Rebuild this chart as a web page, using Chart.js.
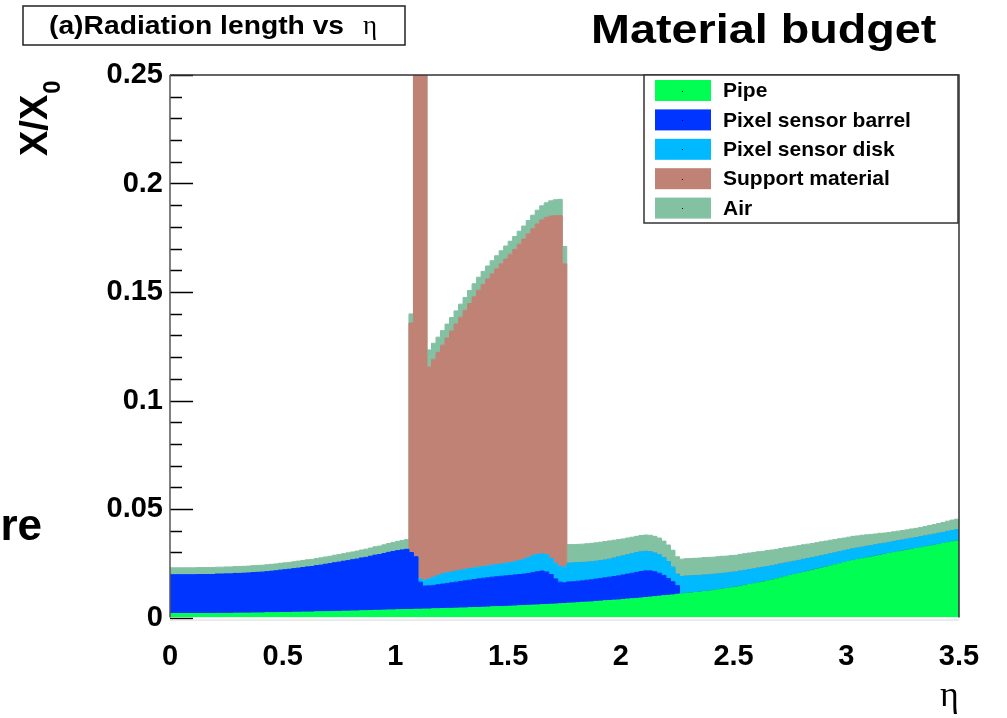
<!DOCTYPE html>
<html>
<head>
<meta charset="utf-8">
<title>Material budget</title>
<script src="https://cdn.jsdelivr.net/npm/chart.js@4.4.1/dist/chart.umd.min.js"></script>
<style>
  html, body { margin: 0; padding: 0; background: #fff; }
  #wrap { width: 1007px; height: 718px; }
</style>
</head>
<body>
<div id="wrap"><canvas id="budgetChart" width="1007" height="718"></canvas></div>
<script>
// histogram axis: 175 bins of 0.02 in eta
const etaMin = 0;
const etaMax = 3.5;
const nBins = 175;

// X/X0 per bin, one array per material (stacked bottom to top)
const pipe = [
  0.0018, 0.0018, 0.0018, 0.0018, 0.0018, 0.0018, 0.0018, 0.0018, 0.0018, 0.0018,
  0.0019, 0.0019, 0.0019, 0.0019, 0.0020, 0.0020, 0.0020, 0.0020, 0.0021, 0.0021,
  0.0021, 0.0022, 0.0022, 0.0022, 0.0023, 0.0023, 0.0023, 0.0024, 0.0024, 0.0025,
  0.0025, 0.0025, 0.0026, 0.0026, 0.0027, 0.0027, 0.0028, 0.0028, 0.0029, 0.0029,
  0.0030, 0.0030, 0.0031, 0.0031, 0.0032, 0.0033, 0.0033, 0.0034, 0.0035, 0.0035,
  0.0036, 0.0036, 0.0037, 0.0037, 0.0038, 0.0038, 0.0039,
  0.0039, 0.0040, 0.0040, 0.0041, 0.0042, 0.0042, 0.0043, 0.0044, 0.0044, 0.0045,
  0.0046, 0.0046, 0.0047, 0.0048, 0.0049, 0.0050, 0.0050, 0.0051, 0.0052, 0.0053,
  0.0054, 0.0055, 0.0056, 0.0057, 0.0058, 0.0059, 0.0060, 0.0061, 0.0062, 0.0063,
  0.0064,
  0.0066, 0.0067, 0.0068, 0.0070, 0.0071, 0.0072, 0.0074, 0.0075, 0.0077, 0.0078,
  0.0080, 0.0081, 0.0083, 0.0085, 0.0086, 0.0088, 0.0090, 0.0092, 0.0094, 0.0096,
  0.0098, 0.0100, 0.0102, 0.0104, 0.0107,
  0.0109, 0.0111, 0.0113, 0.0115, 0.0117, 0.0120, 0.0122, 0.0125, 0.0128, 0.0131,
  0.0134, 0.0137, 0.0140, 0.0144, 0.0148, 0.0152, 0.0156, 0.0160, 0.0164, 0.0169,
  0.0173, 0.0178, 0.0183, 0.0188, 0.0193, 0.0198, 0.0203, 0.0208, 0.0213, 0.0218,
  0.0223, 0.0228, 0.0233, 0.0238, 0.0243, 0.0248, 0.0253, 0.0258, 0.0263, 0.0267,
  0.0271, 0.0275, 0.0279, 0.0283, 0.0287, 0.0291, 0.0295, 0.0299, 0.0303, 0.0307,
  0.0311, 0.0315, 0.0318, 0.0322, 0.0326, 0.0330, 0.0333, 0.0337, 0.0341, 0.0345,
  0.0349, 0.0353
];
const pixelBarrel = [
  0.0179, 0.0179, 0.0179, 0.0179, 0.0179, 0.0179, 0.0180, 0.0180, 0.0180, 0.0180,
  0.0181, 0.0181, 0.0182, 0.0182, 0.0183, 0.0183, 0.0184, 0.0185, 0.0186, 0.0187,
  0.0188, 0.0189, 0.0191, 0.0193, 0.0195, 0.0197, 0.0199, 0.0201, 0.0203, 0.0205,
  0.0208, 0.0210, 0.0213, 0.0215, 0.0218, 0.0221, 0.0224, 0.0227, 0.0230, 0.0233,
  0.0236, 0.0239, 0.0243, 0.0246, 0.0250, 0.0254, 0.0257, 0.0261, 0.0265, 0.0269,
  0.0272, 0.0275, 0.0277, 0.0262, 0.0242, 0.0125, 0.0106,
  0.0107, 0.0108, 0.0111, 0.0113, 0.0115, 0.0118, 0.0120, 0.0122, 0.0125, 0.0127,
  0.0129, 0.0132, 0.0134, 0.0135, 0.0137, 0.0138, 0.0140, 0.0141, 0.0142, 0.0143,
  0.0144, 0.0145, 0.0147, 0.0150, 0.0153, 0.0155, 0.0150, 0.0137, 0.0116, 0.0100,
  0.0096,
  0.0098, 0.0098, 0.0099, 0.0099, 0.0101, 0.0102, 0.0103, 0.0105, 0.0106, 0.0108,
  0.0109, 0.0111, 0.0113, 0.0115, 0.0118, 0.0120, 0.0122, 0.0123, 0.0121, 0.0115,
  0.0106, 0.0094, 0.0078, 0.0061, 0.0040,
  0, 0, 0, 0, 0, 0, 0, 0, 0, 0,
  0, 0, 0, 0, 0, 0, 0, 0, 0, 0,
  0, 0, 0, 0, 0, 0, 0, 0, 0, 0,
  0, 0, 0, 0, 0, 0, 0, 0, 0, 0,
  0, 0, 0, 0, 0, 0, 0, 0, 0, 0,
  0, 0, 0, 0, 0, 0, 0, 0, 0, 0,
  0, 0
];
const pixelDisk = [
  0, 0, 0, 0, 0, 0, 0, 0, 0, 0,
  0, 0, 0, 0, 0, 0, 0, 0, 0, 0,
  0, 0, 0, 0, 0, 0, 0, 0, 0, 0,
  0, 0, 0, 0, 0, 0, 0, 0, 0, 0,
  0, 0, 0, 0, 0, 0, 0, 0, 0, 0,
  0, 0, 0, 0, 0, 0.0015, 0.0025,
  0.0032, 0.0038, 0.0043, 0.0047, 0.0049, 0.0050, 0.0051, 0.0052, 0.0053, 0.0054,
  0.0054, 0.0054, 0.0054, 0.0055, 0.0055, 0.0056, 0.0057, 0.0058, 0.0059, 0.0061,
  0.0064, 0.0068, 0.0073, 0.0078, 0.0080, 0.0079, 0.0080, 0.0074, 0.0072, 0.0073,
  0.0072,
  0.0086, 0.0087, 0.0086, 0.0085, 0.0083, 0.0083, 0.0082, 0.0082, 0.0082, 0.0083,
  0.0085, 0.0087, 0.0088, 0.0089, 0.0090, 0.0091, 0.0091, 0.0090, 0.0088, 0.0086,
  0.0085, 0.0082, 0.0078, 0.0067, 0.0053,
  0.0080, 0.0080, 0.0079, 0.0078, 0.0077, 0.0076, 0.0075, 0.0074, 0.0073, 0.0072,
  0.0071, 0.0071, 0.0070, 0.0070, 0.0069, 0.0069, 0.0068, 0.0068, 0.0067, 0.0066,
  0.0065, 0.0064, 0.0064, 0.0063, 0.0062, 0.0061, 0.0060, 0.0060, 0.0059, 0.0058,
  0.0057, 0.0057, 0.0056, 0.0056, 0.0055, 0.0055, 0.0054, 0.0054, 0.0054, 0.0053,
  0.0053, 0.0053, 0.0052, 0.0052, 0.0052, 0.0051, 0.0051, 0.0051, 0.0051, 0.0050,
  0.0050, 0.0050, 0.0050, 0.0050, 0.0050, 0.0050, 0.0051, 0.0051, 0.0051, 0.0052,
  0.0052, 0.0052
];
const supportMaterial = [
  0, 0, 0, 0, 0, 0, 0, 0, 0, 0,
  0, 0, 0, 0, 0, 0, 0, 0, 0, 0,
  0, 0, 0, 0, 0, 0, 0, 0, 0, 0,
  0, 0, 0, 0, 0, 0, 0, 0, 0, 0,
  0, 0, 0, 0, 0, 0, 0, 0, 0, 0,
  0, 0, 0, 0.1058, 0.2340, 0.2442, 0.2450,
  0.0977, 0.1004, 0.1028, 0.1054, 0.1082, 0.1110, 0.1138, 0.1166, 0.1193, 0.1221,
  0.1249, 0.1276, 0.1300, 0.1322, 0.1343, 0.1363, 0.1383, 0.1402, 0.1421, 0.1439,
  0.1458, 0.1476, 0.1492, 0.1507, 0.1523, 0.1539, 0.1554, 0.1578, 0.1602, 0.1616,
  0.1398,
  0, 0, 0, 0, 0, 0, 0, 0, 0, 0,
  0, 0, 0, 0, 0, 0, 0, 0, 0, 0,
  0, 0, 0, 0, 0,
  0, 0, 0, 0, 0, 0, 0, 0, 0, 0,
  0, 0, 0, 0, 0, 0, 0, 0, 0, 0,
  0, 0, 0, 0, 0, 0, 0, 0, 0, 0,
  0, 0, 0, 0, 0, 0, 0, 0, 0, 0,
  0, 0, 0, 0, 0, 0, 0, 0, 0, 0,
  0, 0, 0, 0, 0, 0, 0, 0, 0, 0,
  0, 0
];
const air = [
  0.0032, 0.0032, 0.0032, 0.0032, 0.0032, 0.0032, 0.0032, 0.0032, 0.0032, 0.0032,
  0.0032, 0.0032, 0.0032, 0.0032, 0.0032, 0.0032, 0.0032, 0.0032, 0.0032, 0.0032,
  0.0032, 0.0032, 0.0032, 0.0032, 0.0032, 0.0032, 0.0032, 0.0032, 0.0033, 0.0033,
  0.0033, 0.0033, 0.0033, 0.0034, 0.0034, 0.0034, 0.0035, 0.0035, 0.0035, 0.0036,
  0.0036, 0.0037, 0.0037, 0.0038, 0.0038, 0.0039, 0.0039, 0.0040, 0.0041, 0.0042,
  0.0043, 0.0044, 0.0045, 0.0042, 0.0060, 0.0060, 0.0060,
  0.0078, 0.0074, 0.0070, 0.0067, 0.0064, 0.0062, 0.0061, 0.0060, 0.0060, 0.0060,
  0.0060, 0.0060, 0.0060, 0.0060, 0.0060, 0.0060, 0.0060, 0.0060, 0.0060, 0.0060,
  0.0060, 0.0060, 0.0061, 0.0062, 0.0063, 0.0065, 0.0067, 0.0070, 0.0073, 0.0075,
  0.0080,
  0.0086, 0.0084, 0.0084, 0.0084, 0.0085, 0.0085, 0.0085, 0.0085, 0.0085, 0.0084,
  0.0082, 0.0080, 0.0078, 0.0077, 0.0076, 0.0075, 0.0075, 0.0075, 0.0076, 0.0077,
  0.0077, 0.0076, 0.0076, 0.0078, 0.0080,
  0.0080, 0.0080, 0.0080, 0.0080, 0.0080, 0.0080, 0.0080, 0.0079, 0.0079, 0.0079,
  0.0078, 0.0078, 0.0077, 0.0077, 0.0077, 0.0076, 0.0076, 0.0075, 0.0074, 0.0074,
  0.0073, 0.0072, 0.0071, 0.0071, 0.0070, 0.0069, 0.0068, 0.0067, 0.0066, 0.0065,
  0.0065, 0.0064, 0.0063, 0.0062, 0.0061, 0.0060, 0.0059, 0.0058, 0.0057, 0.0056,
  0.0055, 0.0053, 0.0052, 0.0050, 0.0049, 0.0047, 0.0046, 0.0045, 0.0044, 0.0044,
  0.0043, 0.0043, 0.0043, 0.0043, 0.0043, 0.0044, 0.0044, 0.0045, 0.0046, 0.0047,
  0.0048, 0.0048
];

const layerNames = ['Pipe', 'Pixel sensor barrel', 'Pixel sensor disk', 'Support material', 'Air'];
const layerColors = ['#00ff52', '#0034ff', '#00b9ff', '#bf8274', '#83c1a3'];
const layerValues = [pipe, pixelBarrel, pixelDisk, supportMaterial, air];

const xTicks = [0, 0.5, 1, 1.5, 2, 2.5, 3, 3.5];
const yTicks = [0, 0.05, 0.1, 0.15, 0.2, 0.25];

const SANS = "'Liberation Sans', Arial, sans-serif";
const SERIF = "'Liberation Serif', 'DejaVu Serif', serif";

const binWidth = (etaMax - etaMin) / nBins;
const binEdges = [];
for (let i = 0; i <= nBins; i++) binEdges.push(etaMin + i * binWidth);

// histogram -> step points (last edge repeats the last bin)
function histPoints(values) {
  const pts = values.map((v, i) => ({ x: binEdges[i], y: v }));
  pts.push({ x: binEdges[nBins], y: values[values.length - 1] });
  return pts;
}

function stretchText(ctx, text, x, y, sx) {
  ctx.save();
  ctx.translate(x, y);
  ctx.scale(sx, 1);
  ctx.fillText(text, 0, 0);
  ctx.restore();
}

// ROOT style frame, inward ticks, title boxes and legend
const rootFrame = {
  id: 'rootFrame',
  beforeDatasetsDraw(chart) {
    const { ctx, chartArea: a, scales: { y } } = chart;
    ctx.save();
    ctx.strokeStyle = '#000';
    ctx.lineWidth = 1.5;
    for (let k = 0; k <= 25; k++) {
      const py = Math.round(y.getPixelForValue(k / 100)) + 0.5;
      const len = k % 5 === 0 ? 23 : 12;
      ctx.beginPath();
      ctx.moveTo(a.left, py);
      ctx.lineTo(a.left + len, py);
      ctx.stroke();
    }
    ctx.restore();
  },
  afterDatasetsDraw(chart) {
    const { ctx, chartArea: a } = chart;
    ctx.save();
    ctx.strokeStyle = '#333';
    ctx.lineWidth = 1.5;
    ctx.beginPath();
    ctx.moveTo(a.left, a.top);
    ctx.lineTo(a.right, a.top);
    ctx.lineTo(a.right, a.bottom);
    ctx.stroke();
    ctx.strokeStyle = '#555';
    ctx.beginPath();
    ctx.moveTo(a.left, a.top);
    ctx.lineTo(a.left, a.bottom);
    ctx.stroke();
    ctx.strokeStyle = '#d8d8d8';
    ctx.lineWidth = 1;
    ctx.beginPath();
    ctx.moveTo(a.left, a.bottom + 2.5);
    ctx.lineTo(a.right, a.bottom + 2.5);
    ctx.stroke();
    ctx.restore();
  },
  afterDraw(chart) {
    const { ctx } = chart;
    ctx.save();
    ctx.textBaseline = 'alphabetic';

    // title box
    ctx.fillStyle = '#fff';
    ctx.fillRect(23, 6, 382, 39);
    ctx.strokeStyle = '#222';
    ctx.lineWidth = 1.5;
    ctx.strokeRect(23, 6, 382, 39);
    ctx.fillStyle = '#000';
    ctx.font = 'bold 25px ' + SANS;
    stretchText(ctx, '(a)Radiation length vs', 49, 34, 1.13);
    ctx.font = '27px ' + SERIF;
    ctx.fillText('η', 363, 34);

    ctx.font = 'bold 41px ' + SANS;
    stretchText(ctx, 'Material budget', 591, 43, 1.14);

    ctx.font = 'bold 44px ' + SANS;
    ctx.textAlign = 'right';
    ctx.fillText('re', 42, 540);
    ctx.textAlign = 'left';

    // y axis title X/X0
    ctx.save();
    ctx.translate(47, 156);
    ctx.rotate(-Math.PI / 2);
    ctx.font = 'bold 38px ' + SANS;
    ctx.fillText('X/X', 0, 0);
    const w = ctx.measureText('X/X').width;
    ctx.font = 'bold 24px ' + SANS;
    ctx.fillText('0', w + 1, 13);
    ctx.restore();

    // x axis title
    ctx.font = '36px ' + SERIF;
    ctx.fillText('η', 940, 706);

    // legend
    const lx = 644, ly = 75, lw = 314, lh = 148;
    ctx.fillStyle = '#fff';
    ctx.fillRect(lx, ly, lw, lh);
    ctx.strokeStyle = '#333';
    ctx.lineWidth = 1.5;
    ctx.strokeRect(lx, ly, lw, lh);
    ctx.textBaseline = 'middle';
    ctx.font = 'bold 21px ' + SANS;
    chart.data.datasets.forEach((ds, i) => {
      const cy = 90.5 + i * 29.4;
      ctx.fillStyle = ds.backgroundColor;
      ctx.fillRect(655, cy - 10.5, 56, 21);
      ctx.fillStyle = '#000';
      ctx.fillRect(682, Math.round(cy), 1, 1);
      ctx.fillText(ds.label, 723, cy + 1);
    });
    ctx.restore();
  }
};

const ctx = document.getElementById('budgetChart').getContext('2d');
const budgetChart = new Chart(ctx, {
  type: 'line',
  data: {
    datasets: layerValues.map((vals, i) => ({
      label: layerNames[i],
      data: histPoints(vals),
      backgroundColor: layerColors[i],
      borderColor: layerColors[i],
      borderWidth: 1,
      fill: i === 0 ? 'origin' : '-1',
      stepped: true,
      pointRadius: 0,
      tension: 0
    }))
  },
  options: {
    responsive: false,
    animation: false,
    devicePixelRatio: 1,
    layout: { padding: { top: 75, right: 48, left: 0, bottom: 0 } },
    plugins: {
      legend: { display: false },
      tooltip: { enabled: false }
    },
    scales: {
      x: {
        type: 'linear',
        min: etaMin,
        max: etaMax,
        grid: { display: false, drawTicks: false },
        border: { display: false },
        afterBuildTicks: s => { s.ticks = xTicks.map(v => ({ value: v })); },
        ticks: {
          color: '#000',
          padding: 22,
          maxRotation: 0,
          autoSkip: false,
          font: { family: SANS, size: 29, weight: 'bold' },
          callback: v => String(v)
        },
        afterFit: s => { s.height = 100.5; }
      },
      y: {
        stacked: true,
        min: 0,
        max: 0.25,
        grid: { display: false, drawTicks: false },
        border: { display: false },
        afterBuildTicks: s => { s.ticks = yTicks.map(v => ({ value: v })); },
        ticks: {
          color: '#000',
          padding: 7,
          font: { family: SANS, size: 29, weight: 'bold' },
          callback: v => String(+v.toFixed(2))
        },
        afterFit: s => { s.width = 170; }
      }
    }
  },
  plugins: [rootFrame]
});
</script>
</body>
</html>
